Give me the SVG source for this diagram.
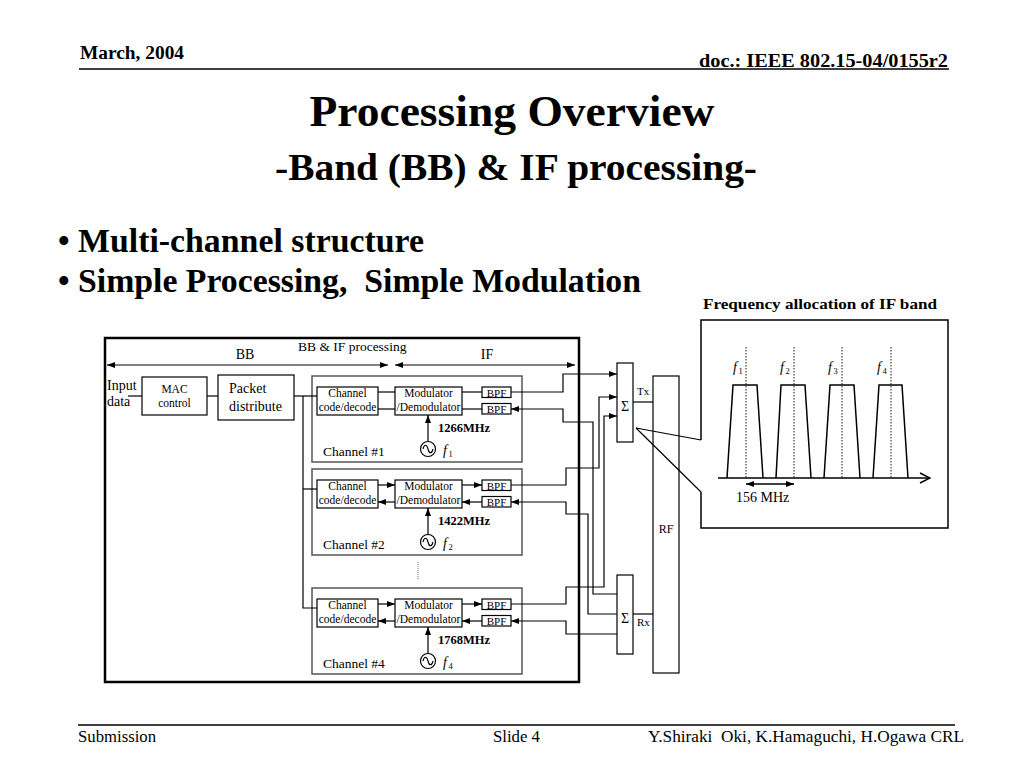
<svg xmlns="http://www.w3.org/2000/svg" width="1024" height="768" viewBox="0 0 1024 768">
<defs>
<style>
text { font-family: "Liberation Serif", "Times New Roman", serif; fill: #000; }
.b { font-weight: bold; }
.it { font-style: italic; }
.mid { text-anchor: middle; }
.pre { white-space: pre; }
.ln { fill: none; stroke: #000; stroke-width: 1.2; }
.box { fill: #fff; stroke: #000; stroke-width: 1.2; }
.ch { fill: #fff; stroke: #555; stroke-width: 1.5; }
.dot { fill: none; stroke: #000; stroke-width: 0.9; stroke-dasharray: 1.5 1.5; }
.trap { fill: none; stroke: #000; stroke-width: 1.5; }
.t11 { font-size: 11.5px; }
.t10 { font-size: 11px; }
.t14 { font-size: 14px; }
</style>
<marker id="ah" viewBox="0 0 8 6" refX="8" refY="3" markerWidth="8" markerHeight="6" markerUnits="userSpaceOnUse" orient="auto-start-reverse"><path d="M0,0 L8,3 L0,6 z" fill="#000"/></marker>
<marker id="chev" viewBox="0 0 12 12" refX="11" refY="6" markerWidth="12" markerHeight="12" markerUnits="userSpaceOnUse" orient="auto"><path d="M1,1 L11,6 L1,11" fill="none" stroke="#000" stroke-width="1.5"/></marker>
<g id="osc"><circle cx="0" cy="0" r="7.5" fill="#fff" stroke="#000" stroke-width="1.2"/><path d="M-5,0 C-3.8,-5 -1.2,-5 0,0 S3.8,5 5,0" fill="none" stroke="#000" stroke-width="1.1"/></g>
</defs>
<rect x="0" y="0" width="1024" height="768" fill="#fff"/>

<g id="header">
<text class="b" x="80" y="59" font-size="18" textLength="104" lengthAdjust="spacingAndGlyphs">March, 2004</text>
<text class="b" x="699" y="67" font-size="18" textLength="249" lengthAdjust="spacingAndGlyphs">doc.: IEEE 802.15-04/0155r2</text>
<line x1="79" y1="69" x2="949" y2="69" stroke="#000" stroke-width="1.5"/>
</g>

<g id="title">
<text class="b mid" x="512" y="126" font-size="45" textLength="405" lengthAdjust="spacingAndGlyphs">Processing Overview</text>
<text class="b mid" x="516" y="180" font-size="38" textLength="482" lengthAdjust="spacingAndGlyphs">-Band (BB) &amp; IF processing-</text>
</g>

<g id="bullets">
<text class="b" x="58" y="252" font-size="33">•</text>
<text class="b" x="78" y="252" font-size="33" textLength="346" lengthAdjust="spacingAndGlyphs">Multi-channel structure</text>
<text class="b" x="58" y="292" font-size="33">•</text>
<text class="b pre" x="78" y="292" font-size="33" textLength="563" lengthAdjust="spacingAndGlyphs">Simple Processing,  Simple Modulation</text>
</g>

<g id="outer-box">
<rect x="105" y="338" width="474" height="344" fill="none" stroke="#000" stroke-width="2.5"/>
<text x="298" y="351" font-size="13.5">BB &amp; IF processing</text>
<text class="mid t14" x="245" y="359">BB</text>
<text class="mid t14" x="487" y="359">IF</text>
<text class="t14" x="107" y="390">Input</text>
<text class="t14" x="107" y="406">data</text>
</g>

<g id="mac-control">
<rect class="box" x="142" y="377" width="65" height="38"/>
<text class="mid t11" x="174.5" y="393">MAC</text>
<text class="mid t11" x="174.5" y="407">control</text>
</g>

<g id="packet-distribute">
<rect class="box" x="218" y="375" width="76" height="45"/>
<text class="t14" x="229" y="393">Packet</text>
<text class="t14" x="229" y="411">distribute</text>
</g>

<g id="channel-1" transform="translate(0,376)">
<rect class="ch" x="312" y="0" width="210" height="86"/>
<rect class="box" x="317" y="11" width="61" height="28"/>
<text class="mid t11" x="347.5" y="21">Channel</text>
<text class="mid t11" x="347.5" y="35">code/decode</text>
<rect class="box" x="395" y="11" width="67" height="28"/>
<text class="mid t11" x="428.5" y="21">Modulator</text>
<text class="mid t11" x="428.5" y="35">/Demodulator</text>
<rect class="box" x="482" y="11" width="29" height="10.5"/>
<text class="mid t10" x="496.5" y="20.5">BPF</text>
<rect class="box" x="482" y="27.5" width="29" height="10.5"/>
<text class="mid t10" x="496.5" y="36.5">BPF</text>
<text class="b" x="438" y="56" font-size="12.5">1266MHz</text>
<use href="#osc" x="428" y="73"/>
<text class="it" x="443" y="79" font-size="14">f</text><text x="448.5" y="81" font-size="8.5">1</text>
<text x="323" y="80" font-size="13.5">Channel #1</text>
</g>

<g id="channel-2" transform="translate(0,469)">
<rect class="ch" x="312" y="0" width="210" height="86"/>
<rect class="box" x="317" y="11" width="61" height="28"/>
<text class="mid t11" x="347.5" y="21">Channel</text>
<text class="mid t11" x="347.5" y="35">code/decode</text>
<rect class="box" x="395" y="11" width="67" height="28"/>
<text class="mid t11" x="428.5" y="21">Modulator</text>
<text class="mid t11" x="428.5" y="35">/Demodulator</text>
<rect class="box" x="482" y="11" width="29" height="10.5"/>
<text class="mid t10" x="496.5" y="20.5">BPF</text>
<rect class="box" x="482" y="27.5" width="29" height="10.5"/>
<text class="mid t10" x="496.5" y="36.5">BPF</text>
<text class="b" x="438" y="56" font-size="12.5">1422MHz</text>
<use href="#osc" x="428" y="73"/>
<text class="it" x="443" y="79" font-size="14">f</text><text x="448.5" y="81" font-size="8.5">2</text>
<text x="323" y="80" font-size="13.5">Channel #2</text>
</g>

<g id="channel-4" transform="translate(0,588)">
<rect class="ch" x="312" y="0" width="210" height="86"/>
<rect class="box" x="317" y="11" width="61" height="28"/>
<text class="mid t11" x="347.5" y="21">Channel</text>
<text class="mid t11" x="347.5" y="35">code/decode</text>
<rect class="box" x="395" y="11" width="67" height="28"/>
<text class="mid t11" x="428.5" y="21">Modulator</text>
<text class="mid t11" x="428.5" y="35">/Demodulator</text>
<rect class="box" x="482" y="11" width="29" height="10.5"/>
<text class="mid t10" x="496.5" y="20.5">BPF</text>
<rect class="box" x="482" y="27.5" width="29" height="10.5"/>
<text class="mid t10" x="496.5" y="36.5">BPF</text>
<text class="b" x="438" y="56" font-size="12.5">1768MHz</text>
<use href="#osc" x="428" y="73"/>
<text class="it" x="443" y="79" font-size="14">f</text><text x="448.5" y="81" font-size="8.5">4</text>
<text x="323" y="80" font-size="13.5">Channel #4</text>
</g>

<g id="sum-tx">
<rect class="box" x="617" y="363" width="16" height="79"/>
<text class="mid" x="625" y="411" font-size="14">Σ</text>
<text x="637" y="395" font-size="11">Tx</text>
</g>

<g id="sum-rx">
<rect class="box" x="617" y="575" width="16" height="79"/>
<text class="mid" x="625" y="623" font-size="14">Σ</text>
<text x="637" y="626" font-size="11">Rx</text>
</g>

<g id="rf">
<rect class="box" x="653" y="376" width="26" height="297"/>
<text class="mid" x="666" y="533" font-size="12">RF</text>
</g>

<g id="frequency-allocation">
<text class="b" x="703" y="309" font-size="15" textLength="234" lengthAdjust="spacingAndGlyphs">Frequency allocation of IF band</text>
<path d="M701,440 V320 H948 V528 H701 V492" fill="none" stroke="#000" stroke-width="1.5"/>
<line x1="718" y1="478" x2="930" y2="478" stroke="#000" stroke-width="1.5" marker-end="url(#chev)"/>
<polyline class="trap" points="727,478 733,385 757,385 763,478"/>
<polyline class="trap" points="776,478 781,385 805,385 811,478"/>
<polyline class="trap" points="824,478 830,385 854,385 860,478"/>
<polyline class="trap" points="873,478 879,385 902,385 908,478"/>
<line class="dot" x1="746" y1="347" x2="746" y2="478"/>
<line class="dot" x1="794" y1="347" x2="794" y2="478"/>
<line class="dot" x1="842" y1="347" x2="842" y2="478"/>
<line class="dot" x1="891" y1="347" x2="891" y2="478"/>
<text class="it" x="733" y="372" font-size="14">f</text><text x="738.5" y="374" font-size="8.5">1</text>
<text class="it" x="780" y="372" font-size="14">f</text><text x="785.5" y="374" font-size="8.5">2</text>
<text class="it" x="828" y="372" font-size="14">f</text><text x="833.5" y="374" font-size="8.5">3</text>
<text class="it" x="877" y="372" font-size="14">f</text><text x="882.5" y="374" font-size="8.5">4</text>
<line x1="746" y1="484" x2="794" y2="484" stroke="#000" stroke-width="1.3" marker-start="url(#ah)" marker-end="url(#ah)"/>
<text x="736" y="502" font-size="14">156 MHz</text>
</g>

<g id="connectors">
<line x1="107" y1="365" x2="388" y2="365" stroke="#000" stroke-width="1.2" marker-start="url(#ah)" marker-end="url(#ah)"/>
<line x1="395" y1="365" x2="575" y2="365" stroke="#000" stroke-width="1.2" marker-start="url(#ah)" marker-end="url(#ah)"/>
<path class="ln" d="M128,396 H142"/>
<path class="ln" d="M207,396 H218"/>
<path class="ln" d="M294,396 H317"/>
<path class="ln" d="M303,396 V608 H317"/>
<path class="ln" d="M303,489 H317"/>
<path class="ln" d="M378,392 H395"/>
<path class="ln" d="M378,409 H395"/>
<path class="ln" d="M462,392 H482"/>
<path class="ln" d="M462,409 H482"/>
<path class="ln" d="M428,441.5 V415" marker-end="url(#ah)"/>
<path class="ln" d="M378,485 H395" marker-end="url(#ah)"/>
<path class="ln" d="M395,502 H378" marker-end="url(#ah)"/>
<path class="ln" d="M462,485 H482" marker-end="url(#ah)"/>
<path class="ln" d="M482,502 H462" marker-end="url(#ah)"/>
<path class="ln" d="M428,534.5 V508" marker-end="url(#ah)"/>
<path class="ln" d="M378,604 H395" marker-end="url(#ah)"/>
<path class="ln" d="M395,621 H378" marker-end="url(#ah)"/>
<path class="ln" d="M462,604 H482" marker-end="url(#ah)"/>
<path class="ln" d="M482,621 H462" marker-end="url(#ah)"/>
<path class="ln" d="M428,653.5 V627" marker-end="url(#ah)"/>
<path class="ln" d="M511,392 H563 V374 H617" marker-end="url(#ah)"/>
<path class="ln" d="M617,594 H593 V422 H563 V409 H511" marker-end="url(#ah)"/>
<path class="ln" d="M511,485 H566 V468 H599 V397 H617" marker-end="url(#ah)"/>
<path class="ln" d="M617,614 H588 V514 H566 V502 H511" marker-end="url(#ah)"/>
<path class="ln" d="M511,604 H566 V587 H604 V416 H617" marker-end="url(#ah)"/>
<path class="ln" d="M617,634 H566 V621 H511" marker-end="url(#ah)"/>
<path class="ln" d="M633,402 H653"/>
<path class="ln" d="M633,614 H653"/>
<path class="ln" d="M636,428 L701,440 M636,428 L701,492"/>
<path d="M418,562 V580" fill="none" stroke="#777" stroke-width="1" stroke-dasharray="1 1"/>
</g>

<g id="footer">
<line x1="78" y1="725" x2="955" y2="725" stroke="#000" stroke-width="1.5"/>
<text x="78" y="742" font-size="16" textLength="78" lengthAdjust="spacingAndGlyphs">Submission</text>
<text x="493" y="742" font-size="16" textLength="47" lengthAdjust="spacingAndGlyphs">Slide 4</text>
<text class="pre" x="648" y="742" font-size="16" textLength="316" lengthAdjust="spacingAndGlyphs">Y.Shiraki  Oki, K.Hamaguchi, H.Ogawa CRL</text>
</g>
</svg>
